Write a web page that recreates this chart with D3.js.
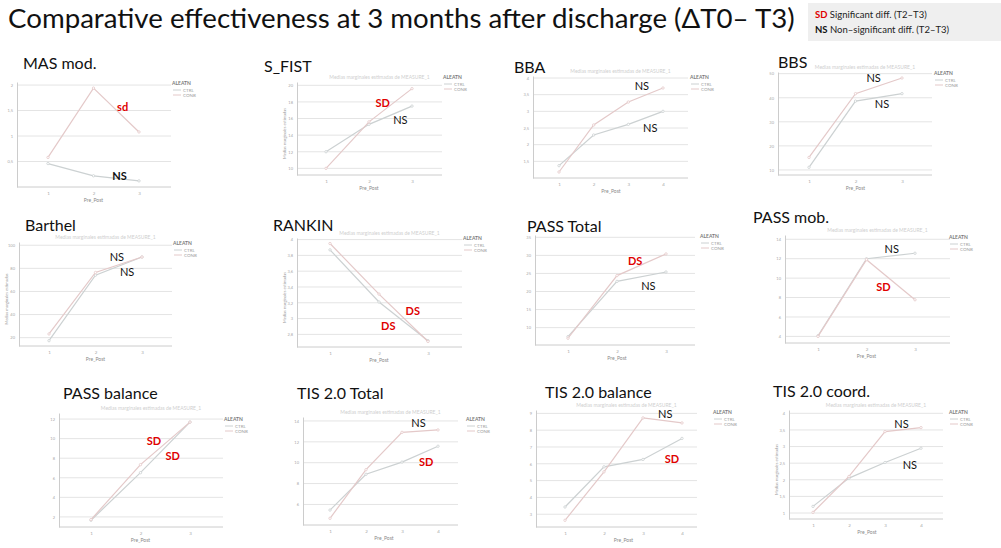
<!DOCTYPE html>
<html>
<head>
<meta charset="utf-8">
<script src="https://cdn.jsdelivr.net/npm/d3@7"></script>
<style>
  body { margin: 0; background: #fff; }
  text { font-family: Lato, "Open Sans", sans-serif; }
</style>
</head>
<body>
<svg id="chart" width="1001" height="548"></svg>
<script>
// ---- data ----
const panelTitles = ["MAS mod.", "S_FIST", "BBA", "BBS",
                     "Barthel", "RANKIN", "PASS Total", "PASS mob.",
                     "PASS balance", "TIS 2.0 Total", "TIS 2.0 balance", "TIS 2.0 coord."];

const categories = [[1, 2, 3], [1, 2, 3], [1, 2, 3, 4], [1, 2, 3],
                    [1, 2, 3], [1, 2, 3], [1, 2, 3], [1, 2, 3],
                    [1, 2, 3], [1, 2, 3, 4], [1, 2, 3, 4], [1, 2, 3, 4]];

const groups = ["CTRL", "CONB"];

// grey line
const ctrlSeries = [
  [0.46, 0.22, 0.12],
  [12.0, 15.3, 17.5],
  [1.37, 2.29, 2.61, 3.0],
  [11.1, 38.6, 41.7],
  [17.4, 74.1, 89.8],
  [3.87, 3.21, 2.72],
  [7.5, 22.8, 25.4],
  [4.07, 12.0, 12.56],
  [1.66, 6.52, 11.69],
  [5.46, 8.89, 10.06, 11.58],
  [3.43, 5.82, 6.26, 7.51],
  [1.20, 2.05, 2.52, 2.95]
];

// pink line
const conbSeries = [
  [0.58, 1.94, 1.08],
  [10.0, 15.6, 19.6],
  [1.18, 2.59, 3.28, 3.70],
  [15.2, 41.7, 48.2],
  [23.2, 76.4, 89.8],
  [3.95, 3.31, 2.71],
  [7.06, 24.4, 30.4],
  [4.0, 11.9, 7.77],
  [1.73, 7.34, 11.69],
  [4.67, 9.33, 12.91, 13.14],
  [2.64, 5.52, 8.73, 8.43],
  [1.02, 2.10, 3.45, 3.57]
];

const yTicks = [
  [0.5, 1.0, 1.5, 2.0],
  [10, 12, 14, 16, 18, 20],
  [1.5, 2.0, 2.5, 3.0, 3.5, 4.0],
  [10, 20, 30, 40, 50],
  [20, 40, 60, 80, 100],
  [2.8, 3.0, 3.2, 3.4, 3.6, 3.8, 4.0],
  [10, 15, 20, 25, 30, 35],
  [4, 6, 8, 10, 12, 14],
  [2, 4, 6, 8, 10, 12],
  [6, 8, 10, 12, 14],
  [3, 4, 5, 6, 7, 8, 9],
  [1.0, 1.5, 2.0, 2.5, 3.0, 3.5, 4.0]
];

const yDomains = [
  [0, 2.06], [9.2, 20.4], [1.0, 4.06], [7.9, 50.7],
  [12.8, 102.8], [2.64, 4.02], [5.19, 35.64], [3.32, 14.44],
  [0.97, 12.62], [4.03, 14.38], [2.24, 9.2], [0.82, 4.1]
];

// significance labels (T2-T3): text, category position, value
const annotations = [
  [{ text: "sd", sig: true, bold: true, x: 2.64, y: 1.56 }, { text: "NS", sig: false, bold: true, x: 2.57, y: 0.22 }],
  [{ text: "SD", sig: true, x: 2.32, y: 17.8 }, { text: "NS", sig: false, x: 2.73, y: 15.8 }],
  [{ text: "NS", sig: false, x: 3.39, y: 3.76 }, { text: "NS", sig: false, x: 3.63, y: 2.49 }],
  [{ text: "NS", sig: false, x: 2.39, y: 48.3 }, { text: "NS", sig: false, x: 2.57, y: 37.3 }],
  [{ text: "NS", sig: false, x: 2.46, y: 89.8 }, { text: "NS", sig: false, x: 2.68, y: 76.4 }],
  [{ text: "DS", sig: true, x: 2.69, y: 3.10 }, { text: "DS", sig: true, x: 2.19, y: 2.91 }],
  [{ text: "DS", sig: true, x: 2.37, y: 28.5 }, { text: "NS", sig: false, x: 2.64, y: 21.6 }],
  [{ text: "NS", sig: false, x: 2.52, y: 12.97 }, { text: "SD", sig: true, x: 2.35, y: 9.07 }],
  [{ text: "SD", sig: true, x: 2.27, y: 9.70 }, { text: "SD", sig: true, x: 2.65, y: 8.23 }],
  [{ text: "NS", sig: false, x: 3.46, y: 13.75 }, { text: "SD", sig: true, x: 3.67, y: 10.08 }],
  [{ text: "NS", sig: false, x: 3.57, y: 8.96 }, { text: "SD", sig: true, x: 3.74, y: 6.28 }],
  [{ text: "NS", sig: false, x: 3.46, y: 3.67 }, { text: "NS", sig: false, x: 3.69, y: 2.45 }]
];

// ---- layout (pixels) ----
const layout = [
  { left: 17, right: 171, top: 82, bottom: 187, x1: 48, xn: 139, tx: 23, ty: 69, lx: 172, ly: 83, sub: false, ylab: false },
  { left: 297, right: 442, top: 82, bottom: 175, x1: 326, xn: 412, tx: 264, ty: 72, lx: 443, ly: 77, sub: true, ylab: true },
  { left: 533, right: 688, top: 76, bottom: 178, x1: 559, xn: 663, tx: 514, ty: 73, lx: 690, ly: 77, sub: true, ylab: false },
  { left: 778, right: 932, top: 72, bottom: 175, x1: 809, xn: 902, tx: 778, ty: 68, lx: 934, ly: 73, sub: true, ylab: false },
  { left: 19, right: 172, top: 242, bottom: 346, x1: 49, xn: 142, tx: 25, ty: 231, lx: 173, ly: 243, sub: true, ylab: true },
  { left: 297, right: 462, top: 238, bottom: 347, x1: 330, xn: 428, tx: 273, ty: 231, lx: 463, ly: 238, sub: true, ylab: true },
  { left: 535, right: 695, top: 235, bottom: 345, x1: 568, xn: 666, tx: 527, ty: 232, lx: 700, ly: 236, sub: false, ylab: false },
  { left: 785, right: 950, top: 235, bottom: 343, x1: 818, xn: 915, tx: 753, ty: 223, lx: 949, ly: 237, sub: true, ylab: false },
  { left: 59, right: 223, top: 413, bottom: 527, x1: 91, xn: 190, tx: 63, ty: 399, lx: 224, ly: 419, sub: true, ylab: false },
  { left: 303, right: 458, top: 417, bottom: 525, x1: 330, xn: 438, tx: 297, ty: 399, lx: 466, ly: 419, sub: true, ylab: false },
  { left: 536, right: 697, top: 410, bottom: 527, x1: 565, xn: 682, tx: 545, ty: 398, lx: 713, ly: 412, sub: true, ylab: false },
  { left: 789, right: 943, top: 410, bottom: 519, x1: 813, xn: 921, tx: 773, ty: 397, lx: 949, ly: 412, sub: true, ylab: true }
];

const colors = { CTRL: "#ccd1d2", CONB: "#e4c9c9" };
const fmt = d => d3.format("~g")(d).replace(".", ",");

const svg = d3.select("#chart");

// main title
const mainTitle = svg.append("text")
  .attr("x", 8)
  .attr("y", 28)
  .style("font-size", "21px")
  .style("fill", "#111")
  .text("Comparative effectiveness at 3 months after discharge (\u0394T0\u2013 T3)");
// fit title width to the slide
const w = mainTitle.node().getComputedTextLength();
mainTitle.style("font-size", (21 * 787 / w) + "px");

// key box top right
const key = svg.append("g").attr("transform", "translate(808,3)");
key.append("rect").attr("width", 193).attr("height", 38).attr("fill", "#efefef");
const keyRows = [
  { code: "SD", color: "#e00000", label: " Significant diff. (T2\u2013T3)" },
  { code: "NS", color: "#111", label: " Non\u2013significant diff. (T2\u2013T3)" }
];
keyRows.forEach((r, j) => {
  const t = key.append("text")
    .attr("x", 7)
    .attr("y", 15 + j * 15)
    .style("font-size", "9.5px");
  t.append("tspan").style("font-weight", "bold").style("fill", r.color).text(r.code);
  t.append("tspan").style("fill", "#222").text(r.label);
});

panelTitles.forEach((title, i) => drawPanel(i));

function drawPanel(i) {
  const L = layout[i];
  const g = svg.append("g");
  const n = categories[i].length;

  const x = d3.scaleLinear().domain([1, n]).range([L.x1, L.xn]);
  const y = d3.scaleLinear().domain(yDomains[i]).range([L.bottom, L.top]);

  // panel title
  g.append("text")
    .attr("x", L.tx)
    .attr("y", L.ty)
    .style("font-size", "16px")
    .style("fill", "#111")
    .text(panelTitles[i]);

  // faint SPSS chart heading
  if (L.sub) {
    g.append("text")
      .attr("x", (L.left + L.right) / 2 + 10)
      .attr("y", L.top - 3)
      .attr("text-anchor", "middle")
      .style("font-size", "5px")
      .style("fill", "#cfcfcf")
      .text("Medias marginales estimadas de MEASURE_1");
  }

  // gridlines
  g.selectAll(".grid")
    .data(yTicks[i])
    .join("line")
    .attr("x1", L.left)
    .attr("x2", L.right)
    .attr("y1", d => y(d))
    .attr("y2", d => y(d))
    .attr("stroke", "#e4e4e4")
    .attr("stroke-width", 1);

  // y axis
  const yAxis = g.append("g")
    .attr("transform", `translate(${L.left},0)`)
    .call(d3.axisLeft(y).tickValues(yTicks[i]).tickSize(0).tickSizeOuter(0).tickPadding(4).tickFormat(fmt));
  yAxis.select(".domain").attr("stroke", "#cccccc");
  yAxis.selectAll("text").style("font-size", "4px").style("fill", "#a8a8a8").style("font-family", "Lato, sans-serif");

  // x axis
  g.append("line")
    .attr("x1", L.left)
    .attr("x2", L.right)
    .attr("y1", L.bottom)
    .attr("y2", L.bottom)
    .attr("stroke", "#cccccc");
  const xAxis = g.append("g")
    .attr("transform", `translate(0,${L.bottom})`)
    .call(d3.axisBottom(x).tickValues(categories[i]).tickSize(0).tickPadding(5).tickFormat(d3.format("d")));
  xAxis.select(".domain").remove();
  xAxis.selectAll("text").style("font-size", "4.5px").style("fill", "#a8a8a8").style("font-family", "Lato, sans-serif");

  g.append("text")
    .attr("x", (L.x1 + L.xn) / 2)
    .attr("y", L.bottom + 15)
    .attr("text-anchor", "middle")
    .style("font-size", "5px")
    .style("fill", "#8a8a8a")
    .text("Pre_Post");

  // y axis title (tiny, rotated)
  if (L.ylab) {
    g.append("text")
      .attr("transform", `translate(${L.left - 11},${(L.top + L.bottom) / 2 + 5}) rotate(-90)`)
      .attr("text-anchor", "middle")
      .style("font-size", "4px")
      .style("fill", "#9a9a9a")
      .text("Medias marginales estimadas");
  }

  // lines
  const line = d3.line()
    .x((d, j) => x(categories[i][j]))
    .y(d => y(d));

  const series = [
    { name: "CTRL", values: ctrlSeries[i] },
    { name: "CONB", values: conbSeries[i] }
  ];

  series.forEach(s => {
    g.append("path")
      .datum(s.values)
      .attr("d", line)
      .attr("fill", "none")
      .attr("stroke", colors[s.name])
      .attr("stroke-width", 1.2);

    g.selectAll(null)
      .data(s.values)
      .join("circle")
      .attr("cx", (d, j) => x(categories[i][j]))
      .attr("cy", d => y(d))
      .attr("r", 1.2)
      .attr("fill", "#fff")
      .attr("stroke", colors[s.name])
      .attr("stroke-width", 0.8);
  });

  // legend
  const leg = g.append("g").attr("transform", `translate(${L.lx},${L.ly})`);
  leg.append("text")
    .attr("y", 2)
    .style("font-size", "5px")
    .style("font-weight", "bold")
    .style("fill", "#7a7a7a")
    .text("ALEATN");
  groups.forEach((name, j) => {
    leg.append("line")
      .attr("x1", 1).attr("x2", 9)
      .attr("y1", 7 + j * 5).attr("y2", 7 + j * 5)
      .attr("stroke", colors[name]);
    leg.append("text")
      .attr("x", 11)
      .attr("y", 8.5 + j * 5)
      .style("font-size", "4.5px")
      .style("fill", "#a0a0a0")
      .text(name);
  });

  // significance labels
  g.selectAll(".ann")
    .data(annotations[i])
    .join("text")
    .attr("x", d => x(d.x))
    .attr("y", d => y(d.y))
    .attr("dy", "0.35em")
    .attr("text-anchor", "middle")
    .style("font-size", "11px")
    .style("font-weight", d => (d.sig || d.bold) ? "bold" : "normal")
    .style("fill", d => d.sig ? "#e00000" : "#111")
    .text(d => d.text);
}
</script>
</body>
</html>
